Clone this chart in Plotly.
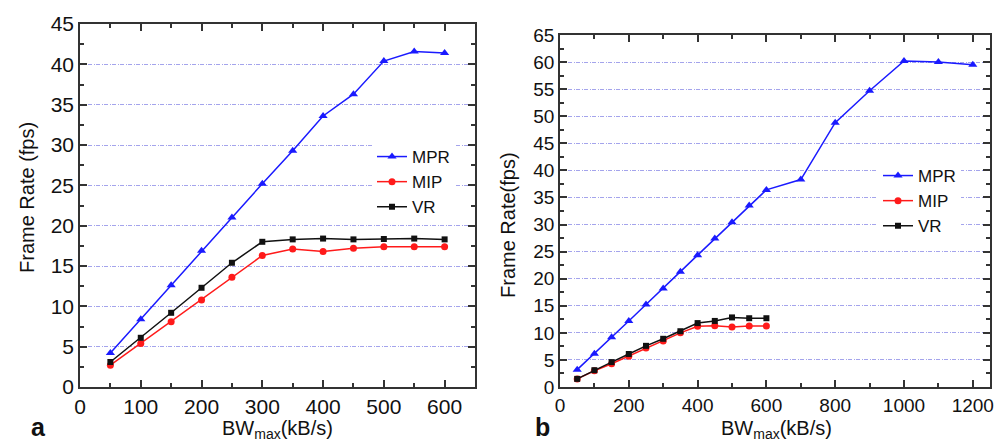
import plotly.graph_objects as go

# ---- data: panel a ----
bw_a = [50, 100, 150, 200, 250, 300, 350, 400, 450, 500, 550, 600]
mpr_a = [4.2, 8.4, 12.6, 16.9, 21.0, 25.2, 29.3, 33.6, 36.3, 40.4, 41.6, 41.4]
mip_a = [2.7, 5.4, 8.1, 10.8, 13.6, 16.3, 17.1, 16.8, 17.2, 17.4, 17.4, 17.4]
vr_a = [3.1, 6.1, 9.2, 12.3, 15.4, 18.0, 18.3, 18.4, 18.3, 18.35, 18.4, 18.3]

# ---- data: panel b ----
bw_b_mpr = [50, 100, 150, 200, 250, 300, 350, 400, 450, 500, 550, 600, 700, 800, 900, 1000, 1100, 1200]
mpr_b = [3.2, 6.15, 9.2, 12.2, 15.25, 18.2, 21.3, 24.35, 27.4, 30.4, 33.5, 36.4, 38.3, 48.8, 54.7, 60.2, 60.0, 59.5]
bw_b = [50, 100, 150, 200, 250, 300, 350, 400, 450, 500, 550, 600]
mip_b = [1.5, 3.0, 4.3, 5.7, 7.2, 8.5, 10.0, 11.2, 11.3, 11.1, 11.25, 11.25]
vr_b = [1.5, 3.1, 4.6, 6.1, 7.6, 8.9, 10.3, 11.8, 12.2, 12.85, 12.7, 12.7]

BLUE = "#1a1aff"
RED = "#ff1a1a"
BLACK = "#111111"
FONT = "Liberation Sans, Arial, sans-serif"
GRID = "#a4a4ec"
GRIDDASH = "4px,1.5px,1px,1.5px"

fig = go.Figure()

def add(x, y, name, color, symbol, size, xa, ya, legend):
    fig.add_trace(go.Scatter(
        x=x, y=y, name=name, mode="lines+markers",
        line=dict(color=color, width=1.5),
        marker=dict(color=color, symbol=symbol, size=size),
        xaxis=xa, yaxis=ya, legend=legend))

add(bw_a, mpr_a, "MPR", BLUE, "triangle-up", 8, "x", "y", "legend")
add(bw_a, mip_a, "MIP", RED, "circle", 7, "x", "y", "legend")
add(bw_a, vr_a, "VR", BLACK, "square", 6, "x", "y", "legend")
add(bw_b_mpr, mpr_b, "MPR", BLUE, "triangle-up", 8, "x2", "y2", "legend2")
add(bw_b, mip_b, "MIP", RED, "circle", 7, "x2", "y2", "legend2")
add(bw_b, vr_b, "VR", BLACK, "square", 6, "x2", "y2", "legend2")

W, H = 1007, 442
def px(v): return v / W
def py(v): return 1 - v / H

def axis_common(size):
    return dict(
        showline=True, linecolor="#333333", linewidth=1.5, mirror="allticks",
        ticks="inside", ticklen=7, tickwidth=1.5, tickcolor="#333333",
        zeroline=False, automargin=False,
        tickfont=dict(family=FONT, size=size, color="#111111"),
    )

fig.update_layout(
    width=W, height=H, margin=dict(l=0, r=0, t=0, b=0),
    paper_bgcolor="white", plot_bgcolor="white",
    font=dict(family=FONT, color="#111111"),
    xaxis=dict(domain=[px(80), px(475)], range=[0, 650], dtick=100, tick0=0,
               anchor="y", showgrid=False,
               minor=dict(ticks="inside", ticklen=4, dtick=50, tickcolor="#333333"),
               **axis_common(21)),
    yaxis=dict(domain=[py(387), py(24)], range=[0, 45], dtick=5, tick0=0,
               anchor="x", showgrid=True, gridcolor=GRID, griddash=GRIDDASH, gridwidth=1,
               minor=dict(ticks="inside", ticklen=4, dtick=2.5, tickcolor="#333333"),
               **axis_common(21)),
    xaxis2=dict(domain=[px(560), px(990)], range=[0, 1250], dtick=200, tick0=0,
                anchor="y2", showgrid=False,
                minor=dict(ticks="inside", ticklen=4, dtick=100, tickcolor="#333333"),
                **axis_common(19)),
    yaxis2=dict(domain=[py(387), py(35)], range=[0, 65], dtick=5, tick0=0,
                anchor="x2", showgrid=True, gridcolor=GRID, griddash=GRIDDASH, gridwidth=1,
                minor=dict(ticks="inside", ticklen=4, dtick=2.5, tickcolor="#333333"),
                **axis_common(19)),
    legend=dict(x=px(372), y=py(139), xanchor="left", yanchor="top",
                bgcolor="white", font=dict(family=FONT, size=17, color="#111111"),
                tracegroupgap=0, itemwidth=30),
    legend2=dict(x=px(878), y=py(158), xanchor="left", yanchor="top",
                 bgcolor="white", font=dict(family=FONT, size=17, color="#111111"),
                 tracegroupgap=0, itemwidth=30),
    showlegend=True,
)

ann = [
    dict(text="Frame Rate (fps)", x=px(27), y=py(198), textangle=-90, font=dict(size=20)),
    dict(text="Frame Rate(fps)", x=px(508), y=py(225), textangle=-90, font=dict(size=20)),
    dict(text="BW<sub>max</sub>(kB/s)", x=px(277), y=py(429), font=dict(size=20)),
    dict(text="BW<sub>max</sub>(kB/s)", x=px(776), y=py(429), font=dict(size=20)),
    dict(text="<b>a</b>", x=px(38), y=py(427), font=dict(size=25)),
    dict(text="<b>b</b>", x=px(542), y=py(427), font=dict(size=25)),
]
for a in ann:
    a.update(xref="paper", yref="paper", showarrow=False, xanchor="center", yanchor="middle")
    a["font"] = dict(family=FONT, color="#111111", **a["font"])
    fig.add_annotation(**a)

fig.write_html("out.html", config={"displayModeBar": False},
               post_script="document.body.style.margin='0';document.body.style.overflow='hidden';")
